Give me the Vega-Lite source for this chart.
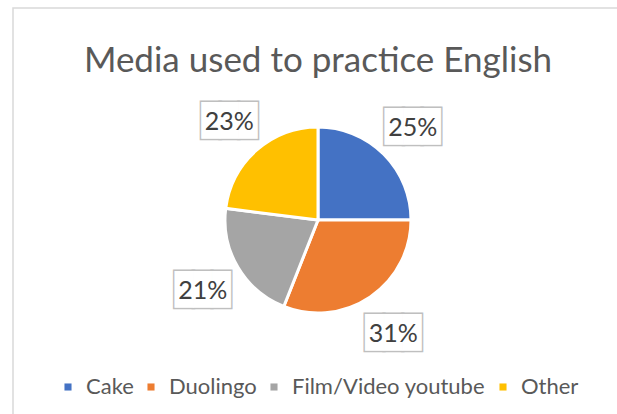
{
  "$schema": "https://vega.github.io/schema/vega-lite/v6.json",
  "width": 610,
  "height": 424,
  "autosize": {"type": "none"},
  "padding": {"left": 13, "top": 8, "right": 0, "bottom": 0},
  "background": "white",
  "view": {"stroke": "#D9D9D9", "strokeWidth": 1.5},
  "title": {
    "text": "Media used to practice English",
    "font": "Lato",
    "fontSize": 35,
    "fontWeight": "normal",
    "color": "#595959",
    "anchor": "middle",
    "offset": -71
  },
  "config": {"view": {"stroke": "#D9D9D9", "strokeWidth": 1.5}},
  "data": {
    "values": [
      {"media": "Cake", "pct": 0.25},
      {"media": "Duolingo", "pct": 0.31},
      {"media": "Film/Video youtube", "pct": 0.21},
      {"media": "Other", "pct": 0.23}
    ]
  },
  "layer": [
    {
      "mark": {"type": "arc", "outerRadius": 93, "stroke": "white", "strokeWidth": 3},
      "encoding": {
        "theta": {"field": "pct", "type": "quantitative", "stack": true},
        "color": {
          "field": "media",
          "type": "nominal",
          "scale": {
            "domain": ["Cake", "Duolingo", "Film/Video youtube", "Other"],
            "range": ["#4472C4", "#ED7D31", "#A5A5A5", "#FFC000"]
          },
          "legend": {
            "title": null,
            "orient": "none",
            "legendX": 44,
            "legendY": 368,
            "direction": "horizontal",
            "symbolType": "square",
            "symbolSize": 50,
            "symbolStrokeWidth": 0,
            "labelFont": "Lato",
            "labelFontSize": 22,
            "labelColor": "#595959",
            "labelOffset": 7,
            "labelLimit": 400,
            "columnPadding": 6
          }
        },
        "order": {"field": "media", "type": "nominal", "sort": "ascending"}
      }
    },
    {
      "mark": {"type": "text", "radius": 134, "text": "███", "font": "DejaVu Sans Mono", "fontSize": 31, "fill": "white", "stroke": "#BFBFBF", "strokeWidth": 3, "align": "center", "baseline": "middle", "dy": 3},
      "encoding": {
        "theta": {"field": "pct", "type": "quantitative", "stack": true},
        "detail": {"field": "media", "type": "nominal"},
        "order": {"field": "media", "type": "nominal", "sort": "ascending"}
      }
    },
    {
      "mark": {"type": "text", "radius": 134, "text": "███", "font": "DejaVu Sans Mono", "fontSize": 31, "fill": "white", "align": "center", "baseline": "middle", "dy": 3},
      "encoding": {
        "theta": {"field": "pct", "type": "quantitative", "stack": true},
        "detail": {"field": "media", "type": "nominal"},
        "order": {"field": "media", "type": "nominal", "sort": "ascending"}
      }
    },
    {
      "mark": {"type": "text", "radius": 134, "font": "Lato", "fontSize": 25, "fill": "#404040", "align": "center", "baseline": "middle", "dy": 3},
      "encoding": {
        "theta": {"field": "pct", "type": "quantitative", "stack": true},
        "detail": {"field": "media", "type": "nominal"},
        "order": {"field": "media", "type": "nominal", "sort": "ascending"},
        "text": {"field": "pct", "type": "quantitative", "format": ".0%"}
      }
    }
  ]
}
